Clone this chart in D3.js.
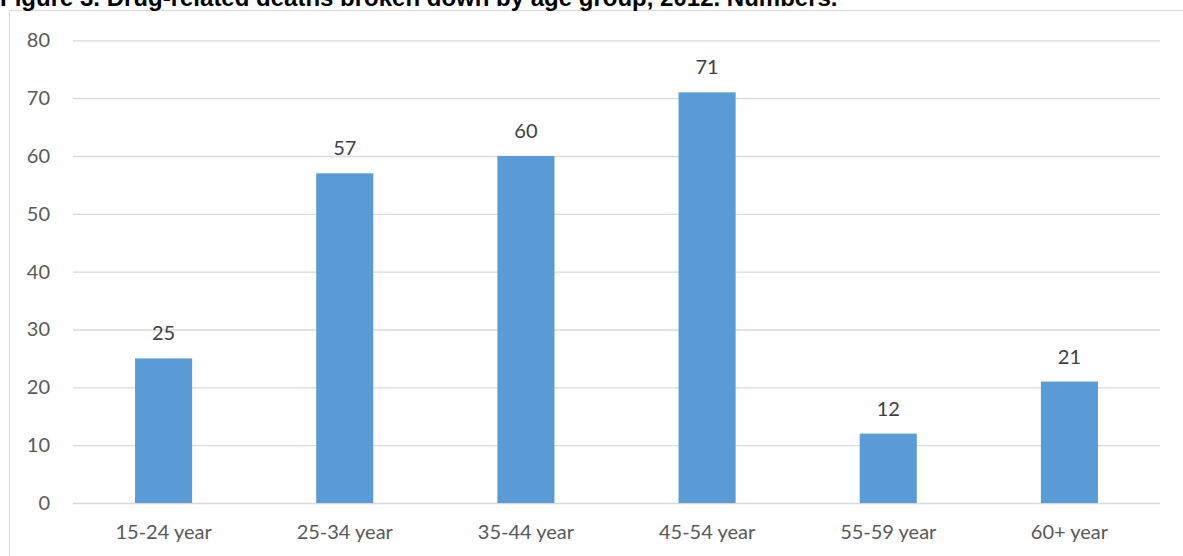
<!DOCTYPE html>
<html>
<head>
<meta charset="utf-8">
<script src="https://cdn.jsdelivr.net/npm/d3@7"></script>
<style>
  html, body { margin: 0; padding: 0; background: #fff; }
  svg { display: block; }
</style>
</head>
<body>
<svg id="chart" width="1183" height="556"></svg>
<script>
const titleText = "Figure 3. Drug-related deaths broken down by age group, 2012. Numbers.";
const categories = ["15-24 year", "25-34 year", "35-44 year", "45-54 year", "55-59 year", "60+ year"];
const deaths = [25, 57, 60, 71, 12, 21];
const yTicks = [0, 10, 20, 30, 40, 50, 60, 70, 80];

(function () {
const W = 1183, H = 556;
const svg = d3.select("#chart");
const mLeft = 73, mRight = 1160, mTop = 40.3, mBottom = 503;

// chart area border
svg.append("rect")
  .attr("x", 9.5).attr("y", 10.5)
  .attr("width", W + 10).attr("height", H + 10)
  .attr("fill", "#fff").attr("stroke", "#D9D9D9").attr("stroke-width", 1);

// title (partially cropped at top as in reference)
svg.append("text")
  .attr("x", 0).attr("y", 5.5)
  .attr("font-family", "'Liberation Sans', Arial, sans-serif")
  .attr("font-weight", "bold").attr("font-size", 24)
  .attr("fill", "#000")
  .text(titleText);

const x = d3.scaleBand().domain(categories).range([mLeft, mRight]).paddingInner(0.685).paddingOuter(0.3425);
const y = d3.scaleLinear().domain([0, 80]).range([mBottom, mTop]);

// gridlines
const yAxis = d3.axisLeft(y).tickValues(yTicks).tickSize(-(mRight - mLeft)).tickPadding(23);
const gy = svg.append("g").attr("transform", `translate(${mLeft},0)`).call(yAxis);
gy.select(".domain").remove();
gy.selectAll(".tick line").attr("stroke", "#D9D9D9").attr("stroke-width", 1.3);
gy.selectAll(".tick text")
  .attr("font-family", "Lato, Carlito, sans-serif").attr("font-size", 20)
  .attr("fill", "#595959");

// bars
svg.append("g").selectAll("rect.bar")
  .data(deaths)
  .join("rect")
  .attr("class", "bar")
  .attr("x", (d, i) => x(categories[i]))
  .attr("width", x.bandwidth())
  .attr("y", d => y(d))
  .attr("height", d => y(0) - y(d))
  .attr("fill", "#5B9BD5");

// value labels
svg.append("g").selectAll("text.val")
  .data(deaths)
  .join("text")
  .attr("class", "val")
  .attr("x", (d, i) => x(categories[i]) + x.bandwidth() / 2)
  .attr("y", d => y(d) - 18)
  .attr("text-anchor", "middle")
  .attr("font-family", "Lato, Carlito, sans-serif").attr("font-size", 20)
  .attr("fill", "#404040")
  .text(d => d);

// x axis labels
const xAxis = d3.axisBottom(x).tickSize(0).tickPadding(22);
const gx = svg.append("g").attr("transform", `translate(0,${mBottom})`).call(xAxis);
gx.select(".domain").remove();
gx.selectAll(".tick text")
  .attr("font-family", "Lato, Carlito, sans-serif").attr("font-size", 20)
  .attr("fill", "#595959");
})();
</script>
</body>
</html>
